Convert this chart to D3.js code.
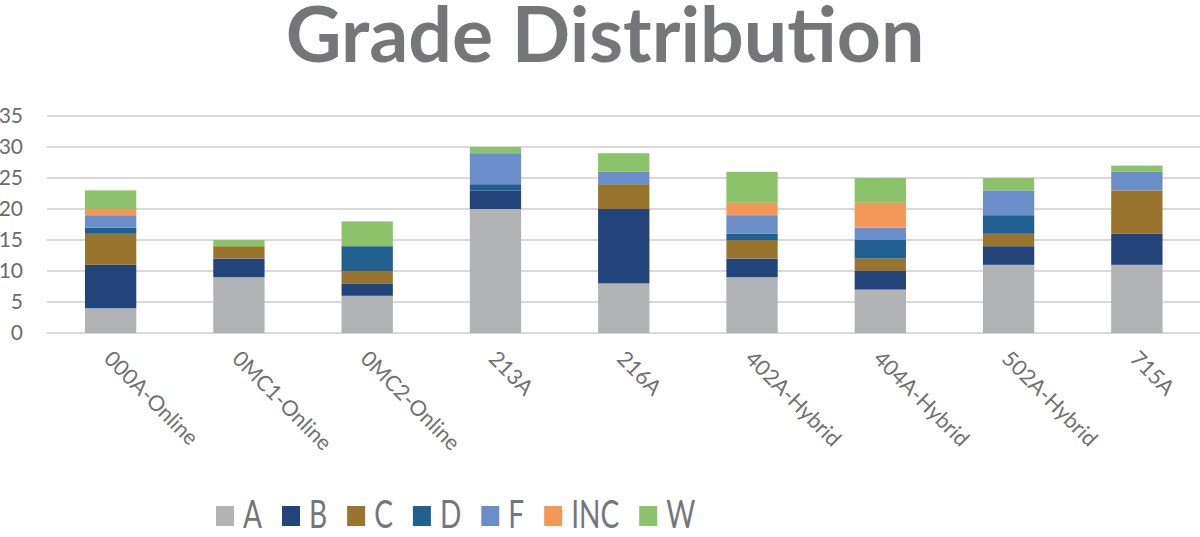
<!DOCTYPE html>
<html>
<head>
<meta charset="utf-8">
<script src="https://cdn.jsdelivr.net/npm/d3@7"></script>
<style>
  body { margin: 0; background: #fff; }
  text { font-family: Lato, "Open Sans", sans-serif; }
</style>
</head>
<body>
<svg id="chart" width="1200" height="537"></svg>
<script>
// data
var courses = ["000A-Online", "0MC1-Online", "0MC2-Online", "213A", "216A",
               "402A-Hybrid", "404A-Hybrid", "502A-Hybrid", "715A"];
var grades = ["A", "B", "C", "D", "F", "INC", "W"];
var gradeA   = [4, 9, 6, 20, 8, 9, 7, 11, 11];
var gradeB   = [7, 3, 2, 3, 12, 3, 3, 3, 5];
var gradeC   = [5, 2, 2, 0, 4, 3, 2, 2, 7];
var gradeD   = [1, 0, 4, 1, 0, 1, 3, 3, 0];
var gradeF   = [2, 0, 0, 5, 2, 3, 2, 4, 3];
var gradeINC = [1, 0, 0, 0, 0, 2, 4, 0, 0];
var gradeW   = [3, 1, 4, 1, 3, 5, 4, 2, 1];
var yTicks = [0, 5, 10, 15, 20, 25, 30, 35];

var colors = ["#b1b2b4", "#22447a", "#98742c", "#225f91", "#6a8ec9", "#f4985a", "#8cc26a"];

var series = [gradeA, gradeB, gradeC, gradeD, gradeF, gradeINC, gradeW];
var rows = courses.map(function(c, i) {
  var r = {course: c};
  grades.forEach(function(g, k) { r[g] = series[k][i]; });
  return r;
});

var svg = d3.select("#chart");

var x = d3.scaleBand().domain(courses).range([46.5, 1201]).paddingInner(0.6).paddingOuter(0.3);
var y = d3.scaleLinear().domain([0, 35]).range([333, 116]);

// title
svg.append("text")
  .attr("x", 605).attr("y", 62)
  .attr("text-anchor", "middle")
  .style("font-size", "77px").style("font-weight", "bold")
  .attr("fill", "#757679")
  .text("Grade Distribution");

// gridlines
svg.append("g").selectAll("line")
  .data(yTicks)
  .enter().append("line")
  .attr("x1", 47).attr("x2", 1200)
  .attr("y1", function(d) { return y(d); })
  .attr("y2", function(d) { return y(d); })
  .attr("stroke", "#d9d9d9").attr("stroke-width", 2);

// y axis labels
var yAxis = svg.append("g")
  .attr("transform", "translate(23,0)")
  .call(d3.axisLeft(y).tickValues(yTicks).tickSize(0).tickPadding(0));
yAxis.select(".domain").remove();
yAxis.selectAll("text")
  .style("font-size", "21px").style("font-family", "Lato, sans-serif")
  .attr("fill", "#6b6b6b");

// stacked bars
var stacked = d3.stack().keys(grades)(rows);
svg.append("g").selectAll("g")
  .data(stacked)
  .enter().append("g")
  .attr("fill", function(d, i) { return colors[i]; })
  .selectAll("rect")
  .data(function(d) { return d; })
  .enter().append("rect")
  .attr("x", function(d) { return x(d.data.course); })
  .attr("width", x.bandwidth())
  .attr("y", function(d) { return y(d[1]); })
  .attr("height", function(d) { return y(d[0]) - y(d[1]); });

// x labels, rotated
var xAxis = svg.append("g")
  .attr("transform", "translate(0,333)")
  .call(d3.axisBottom(x).tickSize(0).tickPadding(0));
xAxis.select(".domain").remove();
xAxis.selectAll("text")
  .style("font-size", "21.5px").style("font-family", "Lato, sans-serif")
  .attr("fill", "#707070")
  .attr("text-anchor", "start")
  .attr("dy", null)
  .attr("transform", "translate(-8,27) rotate(45)");

// legend
var legend = svg.append("g").attr("transform", "translate(216,0)");
var lx = 0;
grades.forEach(function(g, i) {
  var item = legend.append("g").attr("transform", "translate(" + lx + ",0)");
  item.append("rect")
    .attr("x", 0).attr("y", 506).attr("width", 18).attr("height", 20)
    .attr("fill", colors[i]);
  var t = item.append("text")
    .attr("transform", "translate(27,528) scale(0.72,1)")
    .style("font-size", "39px")
    .attr("fill", "#757679")
    .text(g);
  lx += 27 + t.node().getComputedTextLength() * 0.72 + 20;
});
</script>
</body>
</html>
